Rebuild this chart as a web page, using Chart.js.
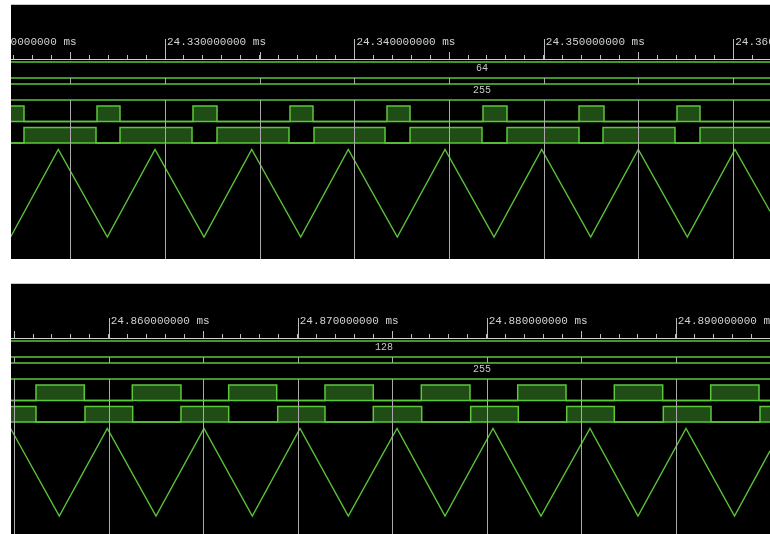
<!DOCTYPE html>
<html>
<head>
<meta charset="utf-8">
<script src="https://cdn.jsdelivr.net/npm/chart.js@4.4.1/dist/chart.umd.min.js"></script>
<style>
  body { margin: 0; background: #fff; width: 770px; height: 534px; overflow: hidden; }
  .panel { position: absolute; left: 11px; width: 759px; background: #000; border-top: 1px solid #c6c6c6; overflow: hidden; }
  .panel canvas { position: absolute; left: -110px; top: 0; }
  #panelTop { top: 4px; height: 254px; }
  #panelBottom { top: 283px; height: 250px; }
</style>
</head>
<body>
<div class="panel" id="panelTop"><canvas id="scopeTop" width="949" height="254"></canvas></div>
<div class="panel" id="panelBottom"><canvas id="scopeBottom" width="949" height="250"></canvas></div>
<script>
// ---- capture 1 (compare = 64) ----
const topBusValues = [64, 255];
const topCounterMs = [24.321848, 24.324366, 24.326954, 24.329472, 24.332059, 24.334578, 24.337165, 24.339678,
  24.342265, 24.344784, 24.347371, 24.349889, 24.352476, 24.354989, 24.357577, 24.360095, 24.361943];
const topCounterValues = [0, 255, 0, 255, 0, 255, 0, 255, 0, 255, 0, 255, 0, 255, 0, 255, 75];
const topPwmMs = [24.321869, 24.322555, 24.326410, 24.327624, 24.331478, 24.332746, 24.336600, 24.337814,
  24.341721, 24.342936, 24.346790, 24.348057, 24.351859, 24.353178, 24.357033, 24.358247, 24.361943];
const topPwmLevels = [1, 0, 1, 0, 1, 0, 1, 0, 1, 0, 1, 0, 1, 0, 1, 0, 0];
const topPwmNMs = [24.321869, 24.322555, 24.326357, 24.327624, 24.331426, 24.332746, 24.336547, 24.337867,
  24.341616, 24.342936, 24.346737, 24.348057, 24.351859, 24.353126, 24.356927, 24.358247, 24.361943];
const topPwmNLevels = [0, 1, 0, 1, 0, 1, 0, 1, 0, 1, 0, 1, 0, 1, 0, 1, 1];

// ---- capture 2 (compare = 128) ----
const bottomBusValues = [128, 255];
const bottomCounterMs = [24.854810, 24.857386, 24.859926, 24.862503, 24.865042, 24.867598, 24.870122, 24.872677,
  24.875254, 24.877794, 24.880333, 24.882873, 24.885466, 24.888005, 24.890545, 24.893111, 24.894989];
const bottomCounterValues = [255, 0, 255, 0, 255, 0, 255, 0, 255, 0, 255, 0, 255, 0, 255, 0, 190];
const bottomPwmMs = [24.854831, 24.856153, 24.858709, 24.861249, 24.863825, 24.866349, 24.868889, 24.871444,
  24.874000, 24.876540, 24.879116, 24.881640, 24.884196, 24.886751, 24.889312, 24.891852, 24.894407, 24.894989];
const bottomPwmLevels = [0, 1, 0, 1, 0, 1, 0, 1, 0, 1, 0, 1, 0, 1, 0, 1, 0, 0];
const bottomPwmNMs = [24.854831, 24.856153, 24.858746, 24.861270, 24.863825, 24.866349, 24.868942, 24.871444,
  24.874000, 24.876561, 24.879153, 24.881672, 24.884233, 24.886751, 24.889344, 24.891868, 24.894460, 24.894989];
const bottomPwmNLevels = [1, 0, 1, 0, 1, 0, 1, 0, 1, 0, 1, 0, 1, 0, 1, 0, 1, 1];

// lane rows, in px below the ruler line
const lanes = {
  busA: [3, 19],
  busB: [25, 41],
  pwm: [47, 62.5],
  pwmN: [68.5, 84],
  counter: [90.5, 178]
};

const GREEN = "#5ac83a";
const FILL = "#204c16";

function rail(xMin, xMax, y) {
  return [{ x: xMin, y: y }, { x: xMax, y: y }];
}

function digital(times, levels, lane) {
  return times.map((t, i) => ({ x: t, y: lane[1] - levels[i] * (lane[1] - lane[0]) }));
}

function analog(times, values, lane) {
  return times.map((t, i) => ({ x: t, y: lane[1] - (values[i] / 255) * (lane[1] - lane[0]) }));
}

// ruler ticks, grid lines and bus values
const scopeDecor = {
  id: "scopeDecor",
  afterDatasetsDraw(chart, args, opts) {
    const { ctx, chartArea } = chart;
    const x = chart.scales.x;
    const y = chart.scales.y;
    ctx.save();
    ctx.lineWidth = 1;
    x.ticks.forEach((t) => {
      const k = Math.round(t.value * 1000);
      if (Math.abs(t.value * 1000 - k) > 1e-6 || k % 5 !== 0) return;
      const px = Math.round(x.getPixelForValue(t.value)) + 0.5;
      ctx.strokeStyle = "#bdbdbd";
      ctx.beginPath();
      ctx.moveTo(px, chartArea.top - (k % 10 === 0 ? 20 : 7));
      ctx.lineTo(px, chartArea.top);
      ctx.stroke();
      ctx.strokeStyle = "#aaaaaa";
      ctx.beginPath();
      ctx.moveTo(px, y.getPixelForValue(lanes.busA[1]));
      ctx.lineTo(px, y.getPixelForValue(lanes.busB[0]));
      ctx.moveTo(px, y.getPixelForValue(lanes.busB[1]));
      ctx.lineTo(px, chartArea.bottom);
      ctx.stroke();
    });

    ctx.font = '10px "Liberation Mono"';
    ctx.fillStyle = "#c8c8c8";
    ctx.textAlign = "center";
    ctx.textBaseline = "middle";
    opts.busValues.forEach((v, i) => {
      const lane = i === 0 ? lanes.busA : lanes.busB;
      ctx.fillText(String(v), opts.labelX[i], y.getPixelForValue((lane[0] + lane[1]) / 2) - 2);
    });
    ctx.restore();
  }
};

function drawScope(canvasId, cfg) {
  const ctx = document.getElementById(canvasId).getContext("2d");
  const plotHeight = ctx.canvas.height - 54;
  const line = { borderColor: GREEN, borderWidth: 1.5, pointRadius: 0, tension: 0 };

  new Chart(ctx, {
    type: "line",
    data: {
      datasets: [
        { ...line, data: rail(cfg.xMin, cfg.xMax, lanes.busA[0]) },
        { ...line, data: rail(cfg.xMin, cfg.xMax, lanes.busA[1]) },
        { ...line, data: rail(cfg.xMin, cfg.xMax, lanes.busB[0]) },
        { ...line, data: rail(cfg.xMin, cfg.xMax, lanes.busB[1]) },
        { ...line, data: rail(cfg.xMin, cfg.xMax, lanes.pwm[1]) },
        { ...line, data: rail(cfg.xMin, cfg.xMax, lanes.pwmN[1]) },
        {
          ...line,
          data: digital(cfg.pwmMs, cfg.pwmLevels, lanes.pwm),
          stepped: true,
          fill: { value: lanes.pwm[1] },
          backgroundColor: FILL
        },
        {
          ...line,
          data: digital(cfg.pwmNMs, cfg.pwmNLevels, lanes.pwmN),
          stepped: true,
          fill: { value: lanes.pwmN[1] },
          backgroundColor: FILL
        },
        {
          ...line,
          borderWidth: 1.4,
          borderColor: "#5ac238",
          data: analog(cfg.counterMs, cfg.counterValues, lanes.counter)
        }
      ]
    },
    options: {
      responsive: false,
      animation: false,
      devicePixelRatio: 1,
      layout: { padding: 0 },
      plugins: {
        legend: { display: false },
        tooltip: { enabled: false },
        scopeDecor: { busValues: cfg.busValues, labelX: cfg.labelX }
      },
      scales: {
        x: {
          type: "linear",
          position: "top",
          min: cfg.xMin,
          max: cfg.xMax,
          afterFit: (scale) => {
            scale.height = 54;
            scale.paddingLeft = 0;
            scale.paddingRight = 0;
          },
          grid: { drawOnChartArea: false, drawTicks: true, tickLength: 4, tickColor: "#bdbdbd" },
          border: { display: true, color: "#cfcfcf", width: 1 },
          ticks: {
            stepSize: 0.001,
            autoSkip: false,
            maxRotation: 0,
            minRotation: 0,
            align: "start",
            labelOffset: 2,
            padding: 6,
            color: "#d2d2d2",
            font: { family: "Liberation Mono", size: 11 },
            callback: (value) => {
              const k = Math.round(value * 1000);
              if (Math.abs(value * 1000 - k) > 1e-6 || k % 10 !== 0) return "";
              return value.toFixed(9) + " ms";
            }
          }
        },
        y: {
          type: "linear",
          display: false,
          reverse: true,
          min: 0,
          max: plotHeight
        }
      }
    },
    plugins: [scopeDecor]
  });
}

drawScope("scopeTop", {
  xMin: 24.316061,
  xMax: 24.366167,
  busValues: topBusValues,
  labelX: [581, 581],
  counterMs: topCounterMs,
  counterValues: topCounterValues,
  pwmMs: topPwmMs,
  pwmLevels: topPwmLevels,
  pwmNMs: topPwmNMs,
  pwmNLevels: topPwmNLevels
});

drawScope("scopeBottom", {
  xMin: 24.849011,
  xMax: 24.899222,
  busValues: bottomBusValues,
  labelX: [483, 581],
  counterMs: bottomCounterMs,
  counterValues: bottomCounterValues,
  pwmMs: bottomPwmMs,
  pwmLevels: bottomPwmLevels,
  pwmNMs: bottomPwmNMs,
  pwmNLevels: bottomPwmNLevels
});
</script>
</body>
</html>
